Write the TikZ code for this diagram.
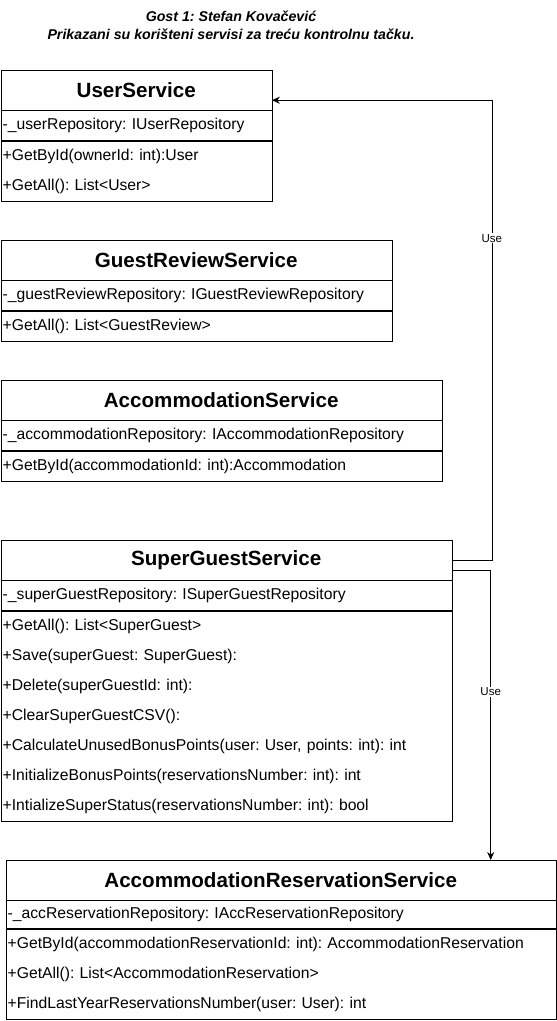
\documentclass[tikz,border=0pt]{standalone}
\usepackage{fontspec}
\setmainfont{Liberation Sans}
\usetikzlibrary{arrows.meta}
\frenchspacing

\begin{document}
\begin{tikzpicture}[x=1pt,y=-1pt,
  hdr/.style={draw,rectangle,anchor=north west,inner sep=0pt,minimum height=40pt,font=\fontsize{20.6}{26}\selectfont\bfseries},
  row/.style={draw,rectangle,anchor=north west,inner xsep=2pt,inner ysep=0pt,align=left,font=\fontsize{15.7}{30}\selectfont},
  use/.style={-{Stealth[length=8pt,width=7pt]},line width=0.8pt},
  lbl/.style={fill=white,inner sep=1pt,font=\fontsize{11.5}{14}\selectfont}]
\useasboundingbox (0,0) rectangle (557,1021);
  % title
  \node[align=center,font=\fontsize{14.2}{18}\selectfont\bfseries\itshape] (title) at (231,25)
    {Gost 1: Stefan Kova\v{c}evi\'c\\Prikazani su kori\v{s}teni servisi za tre\'cu kontrolnu ta\v{c}ku.};
  % UserService
  \node[hdr,minimum width=271pt] (usH) at (0.5,70) {UserService};
  \node[row,text width=267pt,minimum height=30pt] (usA) at (usH.south west) {-\_userRepository: IUserRepository};
  \node[row,text width=267pt,minimum height=60pt] (usM) at (usA.south west) {+GetById(ownerId: int):User\\+GetAll(): List<User>};
  % GuestReviewService
  \node[hdr,minimum width=391pt] (grsH) at (0.5,240) {GuestReviewService};
  \node[row,text width=387pt,minimum height=30pt] (grsA) at (grsH.south west) {-\_guestReviewRepository: IGuestReviewRepository};
  \node[row,text width=387pt,minimum height=30pt] (grsM) at (grsA.south west) {+GetAll(): List<GuestReview>};
  % AccommodationService
  \node[hdr,minimum width=441pt] (asH) at (0.5,380) {AccommodationService};
  \node[row,text width=437pt,minimum height=30pt] (asA) at (asH.south west) {-\_accommodationRepository: IAccommodationRepository};
  \node[row,text width=437pt,minimum height=30pt] (asM) at (asA.south west) {+GetById(accommodationId: int):Accommodation};
  % SuperGuestService
  \node[hdr,minimum width=451pt] (sgsH) at (0.5,540) {SuperGuestService};
  \node[row,text width=447pt,minimum height=30pt] (sgsA) at (sgsH.south west) {-\_superGuestRepository: ISuperGuestRepository};
  \node[row,text width=447pt,minimum height=210pt] (sgsM) at (sgsA.south west) {+GetAll(): List<SuperGuest>\\
    +Save(superGuest: SuperGuest):\\
    +Delete(superGuestId: int):\\
    +ClearSuperGuestCSV():\\
    +CalculateUnusedBonusPoints(user: User, points: int): int\\
    +InitializeBonusPoints(reservationsNumber: int): int\\
    +IntializeSuperStatus(reservationsNumber: int): bool};
  % AccommodationReservationService
  \node[hdr,minimum width=550pt] (arsH) at (5.5,860) {AccommodationReservationService};
  \node[row,text width=546pt,minimum height=28pt] (arsA) at (arsH.south west) {-\_accReservationRepository: IAccReservationRepository};
  \node[row,text width=546pt,minimum height=90pt] (arsM) at (arsA.south west) {+GetById(accommodationReservationId: int): AccommodationReservation\\
    +GetAll(): List<AccommodationReservation>\\
    +FindLastYearReservationsNumber(user: User): int};
  % connectors
  \draw[use] (sgsH.east) -- ++(40,0) |- node[lbl,pos=0.35] {Use} ([yshift=-10pt]usH.east);
  \draw[use] ([yshift=-10pt]sgsH.east) -| node[lbl,pos=0.71] {Use} ([xshift=210pt]arsH.north);
\end{tikzpicture}
\end{document}
